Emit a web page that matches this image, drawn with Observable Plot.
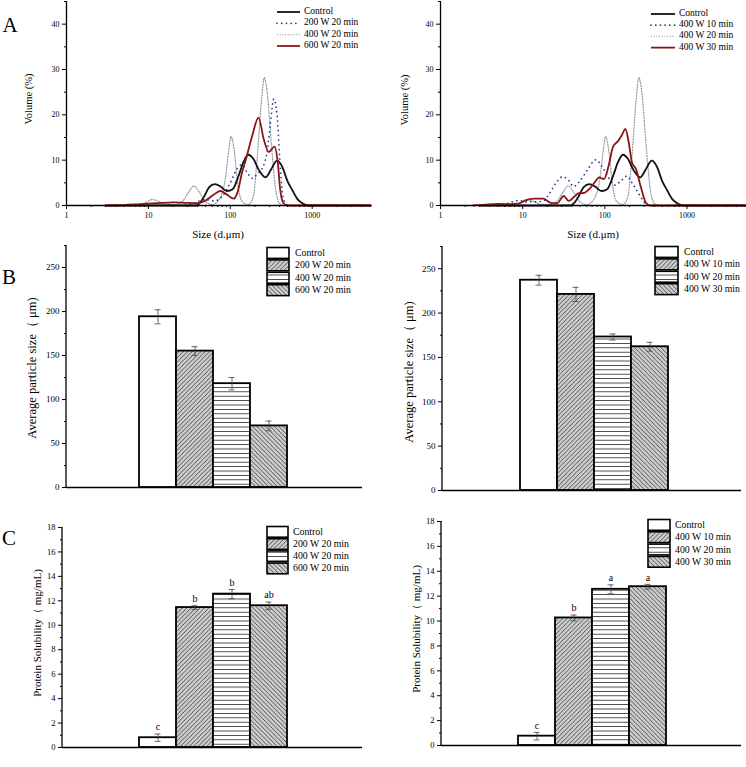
<!DOCTYPE html>
<html><head><meta charset="utf-8">
<script src="https://cdn.jsdelivr.net/npm/d3@7"></script>
<script src="https://cdn.jsdelivr.net/npm/@observablehq/plot@0.6"></script>
<style>
body{margin:0;background:#fff;}
#root{position:relative;width:746px;height:767px;overflow:hidden;font-family:"Liberation Serif","Times New Roman",serif;color:#000;}
.panel{position:absolute;}
.t{position:absolute;white-space:nowrap;font-family:"Liberation Serif","Times New Roman",serif;color:#000;line-height:1;}
</style></head><body>
<svg width="0" height="0" style="position:absolute">
<defs>
<pattern id="pFwd" patternUnits="userSpaceOnUse" width="4.4" height="4.4">
<rect width="4.4" height="4.4" fill="#cdcdcd"/>
<path d="M-1.1,1.1 L1.1,-1.1 M0,4.4 L4.4,0 M3.3,5.5 L5.5,3.3" stroke="#1a1a1a" stroke-width="0.7"/>
</pattern>
<pattern id="pBack" patternUnits="userSpaceOnUse" width="4.4" height="4.4">
<rect width="4.4" height="4.4" fill="#cdcdcd"/>
<path d="M-1.1,3.3 L1.1,5.5 M0,0 L4.4,4.4 M3.3,-1.1 L5.5,1.1" stroke="#1a1a1a" stroke-width="0.7"/>
</pattern>
<pattern id="pHor" patternUnits="userSpaceOnUse" width="6" height="4.4">
<rect width="6" height="4.4" fill="#ffffff"/>
<line x1="0" y1="2.2" x2="6" y2="2.2" stroke="#3a3a3a" stroke-width="0.9"/>
</pattern>
</defs>
</svg>
<div id="root"></div>
<script>
// ---------------- DATA ----------------
const seriesA1 = ["Control", "200 W 20 min", "400 W 20 min", "600 W 20 min"];
const seriesA2 = ["Control", "400 W 10 min", "400 W 20 min", "400 W 30 min"];

// particle size distributions: [size (µm), volume (%)]
const controlCurve = [[3,0],[25,0],[38,0],[43,0.7],[48,2],[55,4],[65,4.7],[76,4.2],[91,3.2],[107,3.6],[126,6.5],[145,9.6],[166,11.2],[191,10.3],[224,7.8],[269,6.2],[316,8.0],[372,9.9],[427,8.7],[501,5.3],[575,3.3],[661,1.4],[776,0.4],[933,0],[5200,0]];
const w200m20Curve = [[3,0],[25,0],[35.5,0.5],[41.7,1],[50,1.3],[63,1],[79.4,2],[100,5],[120,8],[138,9],[158,7.5],[186,6],[214,7],[251,8.5],[282,12],[309,18],[339,23.5],[372,20],[403,10],[432,3],[468,0.5],[525,0],[5200,0]];
const w400m20Curve = [[3,0],[6.3,0],[8.9,0.5],[11.2,1.3],[13.5,0.9],[16.6,0.3],[20.9,0.2],[26.3,1],[31.6,3.2],[35.9,4.3],[41.7,3],[50,0.8],[60.3,0.2],[72.4,1.2],[87.1,6],[95.5,12],[102,15.2],[112,12],[123,5],[138,1],[166,0.2],[191,2],[214,11],[240,23],[260,28.2],[282,25],[316,14],[355,4],[398,0.5],[447,0],[5200,0]];
const w600m20Curve = [[3.2,0],[5,0.1],[7.9,0.3],[12.6,0.5],[20,0.7],[28.2,0.6],[40,0.5],[50,1.1],[61.7,2.3],[75.9,3.2],[91.2,2.4],[110,1.5],[123,3],[138,7],[158,10.7],[186,15.5],[221,19.4],[257,14.5],[295,11.8],[347,13],[380,9.5],[407,3.5],[447,0.5],[501,0],[5200,0]];
const w400m10Curve = [[3,0],[4,0],[6.3,0.4],[8.9,1.1],[11.2,0.8],[14.1,0.8],[17.8,1.0],[20.9,2.5],[25.1,4.8],[30.2,6.3],[35.5,5.8],[41.7,4.2],[50.1,5.5],[61.7,7.9],[77.6,10.1],[93.3,8.5],[112,6],[132,4.5],[158,5.5],[186,6.5],[214,5],[251,3],[282,1.5],[316,0.3],[355,0],[5200,0]];
const w400m30Curve = [[2.5,0],[3.5,0.2],[5,0.35],[7.1,0.3],[8.9,0.4],[11.5,1.3],[14.1,1.5],[17.8,1.5],[21.9,0.6],[26.3,0.5],[31.6,2.1],[36.3,1.0],[42.7,2.0],[47.9,2.7],[56.2,2.8],[66.1,3.8],[75.9,5.2],[85.1,6.2],[97.7,5.8],[112,9],[126,13],[145,14.2],[162,15.6],[178,16.9],[195,14],[214,9.5],[240,8.0],[275,4.0],[316,0.6],[355,0],[5200,0]];

const xMajorTicks = [1, 10, 100, 1000];
const yTicksA = [0, 10, 20, 30, 40];
const yTicksB = [0, 50, 100, 150, 200, 250];
const yTicksC = [0, 2, 4, 6, 8, 10, 12, 14, 16, 18];

// average particle size (µm)
const sizeMeansL = [194, 155, 118, 70];
const sizeErrL = [8, 5, 7, 5.5];
const sizeMeansR = [237, 221, 173, 162];
const sizeErrR = [5.5, 8, 3.4, 5];
// protein solubility (mg/mL)
const solMeansL = [0.8, 11.45, 12.55, 11.6];
const solErrL = [0.3, 0.15, 0.38, 0.3];
const solLettersL = ["c", "b", "b", "ab"];
const solMeansR = [0.75, 10.25, 12.55, 12.76];
const solErrR = [0.3, 0.23, 0.36, 0.19];
const solLettersR = ["c", "b", "a", "a"];

// ---------------- STYLES ----------------
const FONT = "'Liberation Serif','Times New Roman',serif";
const barFills = ["#ffffff", "url(#pFwd)", "url(#pHor)", "url(#pBack)"];
const lineStyles = [
  {stroke: "#111111", strokeWidth: 1.8},
  {stroke: "#2b3f93", strokeWidth: 1.7, strokeDasharray: "0.1,4.6", strokeLinecap: "round"},
  {stroke: "#98a0ab", strokeWidth: 1.3, strokeDasharray: "1,1.7"},
  {stroke: "#8c1616", strokeWidth: 1.8}
];

const root = document.getElementById("root");
function place(el, left, top) {
  el.classList.add("panel");
  el.style.left = left + "px"; el.style.top = top + "px";
  root.appendChild(el);
}
function text(str, x, y, size, opts = {}) {
  const d = document.createElement("div");
  d.className = "t";
  d.textContent = str;
  d.style.fontSize = size + "px";
  d.style.left = x + "px"; d.style.top = y + "px";
  let tr = opts.anchor === "start" ? "translate(0,-50%)" : "translate(-50%,-50%)";
  if (opts.rotate) tr += " rotate(-90deg)";
  d.style.transform = tr;
  if (opts.weight) d.style.fontWeight = opts.weight;
  root.appendChild(d);
  return d;
}
function yAxisLine(svg, x, y1, y2) {
  const ns = "http://www.w3.org/2000/svg";
  const l = document.createElementNS(ns, "line");
  l.setAttribute("x1", x); l.setAttribute("x2", x);
  l.setAttribute("y1", y1); l.setAttribute("y2", y2);
  l.setAttribute("stroke", "#000"); l.setAttribute("stroke-width", "1.3");
  svg.appendChild(l);
}

// ---------------- PANEL A ----------------
const xMinor = [];
for (const k of [1, 10, 100, 1000]) for (let m = 2; m <= 9; m++) if (k * m <= 5300) xMinor.push(k * m);

function distPlot(curves, cfg) {
  const marks = [];
  const order = [2, 1, 0, 3];
  for (const i of order) {
    marks.push(Plot.line(curves[i], {x: d => d[0], y: d => d[1], curve: "monotone-x", ...lineStyles[i]}));
  }
  marks.push(
    Plot.ruleY([0], {stroke: "#000", strokeWidth: 1.3}),
    Plot.ruleX([1], {stroke: "#000", strokeWidth: 1.3}),
    Plot.axisX({ticks: xMajorTicks, tickFormat: d => String(d), tickSize: 4, tickPadding: 3, fontSize: 8, label: null}),
    Plot.axisX({ticks: xMinor, tickSize: 2, tickFormat: () => "", label: null}),
    Plot.axisY({ticks: yTicksA, tickSize: 4, tickPadding: 3, fontSize: 8, label: null}),
    Plot.axisY({ticks: [5, 15, 25, 35, 45], tickSize: 2, tickFormat: () => "", label: null})
  );
  return Plot.plot({
    width: cfg.width, height: 240,
    marginLeft: cfg.ml, marginRight: cfg.mr, marginTop: 1, marginBottom: 35,
    style: {fontFamily: FONT, background: "transparent", overflow: "visible"},
    x: {type: "log", domain: [1, 5300]},
    y: {domain: [0, 45]},
    marks
  });
}

place(distPlot([controlCurve, w200m20Curve, w400m20Curve, w600m20Curve], {width: 373, ml: 66, mr: 2}), 0, 0);
place(distPlot([controlCurve, w400m10Curve, w400m20Curve, w400m30Curve], {width: 373, ml: 67, mr: 0}), 373, 0);

// ---------------- BAR PANELS ----------------
function barPlot(cats, means, errs, letters, cfg) {
  const data = cats.map((c, i) => ({name: c, value: means[i], err: errs[i], letter: letters ? letters[i] : "", idx: i}));
  const marks = [
    Plot.barY(data, {x: "name", y: "value", fill: d => barFills[d.idx], stroke: "#000", strokeWidth: 1.8}),
    Plot.ruleX(data, {x: "name", y1: d => d.value - d.err, y2: d => d.value + d.err, stroke: "#444", strokeWidth: 0.8}),
    Plot.tickY(data, {x: "name", y: d => d.value + d.err, insetLeft: 15.5, insetRight: 15.5, stroke: "#444", strokeWidth: 0.8}),
    Plot.tickY(data, {x: "name", y: d => d.value - d.err, insetLeft: 15.5, insetRight: 15.5, stroke: "#444", strokeWidth: 0.8}),
    Plot.ruleY([0], {stroke: "#000", strokeWidth: 1.3}),
    Plot.axisY({ticks: cfg.ticks, tickSize: 4, tickPadding: 3, fontSize: cfg.tickFont, label: null}),
    Plot.axisY({ticks: cfg.minor, tickSize: 2, tickFormat: () => "", label: null})
  ];
  if (letters) marks.push(Plot.text(data, {x: "name", y: d => d.value + d.err, text: "letter", dy: -7, fontSize: 10, fill: "#000"}));
  const svg = Plot.plot({
    width: 373, height: cfg.height,
    marginLeft: cfg.ml, marginRight: cfg.mr, marginTop: cfg.mt, marginBottom: cfg.mb,
    style: {fontFamily: FONT, background: "transparent", overflow: "visible"},
    x: {type: "band", domain: cats, range: cfg.range, paddingInner: 0, paddingOuter: 0, axis: null},
    y: {domain: cfg.domain},
    color: {type: "identity"},
    marks
  });
  yAxisLine(svg, cfg.ml, cfg.mt, cfg.height - cfg.mb);
  return svg;
}

const sizeMinor = [25, 75, 125, 175, 225, 275];
const solMinor = [1, 3, 5, 7, 9, 11, 13, 15, 17];

place(barPlot(seriesA1, sizeMeansL, sizeErrL, null,
  {height: 260, ml: 66, mr: 11, mt: 5, mb: 13, range: [139, 287], domain: [0, 275], ticks: yTicksB, minor: sizeMinor, tickFont: 9}), 0, 240);
place(barPlot(seriesA2, sizeMeansR, sizeErrR, null,
  {height: 260, ml: 69, mr: 5, mt: 6, mb: 10, range: [146, 295], domain: [0, 275], ticks: yTicksB, minor: sizeMinor, tickFont: 9}), 373, 240);
place(barPlot(seriesA1, solMeansL, solErrL, solLettersL,
  {height: 267, ml: 62, mr: 11, mt: 27, mb: 20, range: [138, 287], domain: [0, 18], ticks: yTicksC, minor: solMinor, tickFont: 8.5}), 0, 500);
place(barPlot(seriesA2, solMeansR, solErrR, solLettersR,
  {height: 267, ml: 68, mr: 5, mt: 21, mb: 22, range: [144, 294], domain: [0, 18], ticks: yTicksC, minor: solMinor, tickFont: 8.5}), 373, 500);

// ---------------- LEGENDS ----------------
const ns = "http://www.w3.org/2000/svg";
function lineLegend(names, x0, x1, tx, ys) {
  const svg = document.createElementNS(ns, "svg");
  svg.setAttribute("width", 746); svg.setAttribute("height", 80);
  svg.style.position = "absolute"; svg.style.left = "0px"; svg.style.top = "0px";
  names.forEach((n, i) => {
    const l = document.createElementNS(ns, "line");
    l.setAttribute("x1", x0); l.setAttribute("x2", x1);
    l.setAttribute("y1", ys[i]); l.setAttribute("y2", ys[i]);
    const s = lineStyles[i];
    l.setAttribute("stroke", s.stroke); l.setAttribute("stroke-width", s.strokeWidth);
    if (s.strokeDasharray) l.setAttribute("stroke-dasharray", s.strokeDasharray);
    if (s.strokeLinecap) l.setAttribute("stroke-linecap", s.strokeLinecap);
    svg.appendChild(l);
    text(n, tx, ys[i], 9.5, {anchor: "start"});
  });
  root.appendChild(svg);
}
function boxLegend(names, x0, w, top, h, tx) {
  const svg = document.createElementNS(ns, "svg");
  svg.setAttribute("width", 746); svg.setAttribute("height", 767);
  svg.style.position = "absolute"; svg.style.left = "0px"; svg.style.top = "0px";
  names.forEach((n, i) => {
    const r = document.createElementNS(ns, "rect");
    r.setAttribute("x", x0); r.setAttribute("y", top + i * h);
    r.setAttribute("width", w); r.setAttribute("height", h - 1.5);
    r.setAttribute("fill", barFills[i]); r.setAttribute("stroke", "#000"); r.setAttribute("stroke-width", 1.6);
    svg.appendChild(r);
    text(n, tx, top + i * h + (h - 1.5) / 2, 9.8, {anchor: "start"});
  });
  root.appendChild(svg);
}
lineLegend(seriesA1, 277, 300, 304, [12, 23.3, 34.6, 46]);
lineLegend(seriesA2, 651, 675, 679, [14, 25.2, 36.4, 47.6]);
boxLegend(seriesA1, 267, 22, 247.5, 12.4, 295);
boxLegend(seriesA2, 655, 23, 246.5, 12.4, 684);
boxLegend(seriesA1, 267, 21, 526.5, 12.2, 293);
boxLegend(seriesA2, 648, 22, 519.5, 12.3, 675);

// ---------------- AXIS TITLES & PANEL LETTERS ----------------
text("Volume (%)", 29, 99, 10.5, {rotate: true});
text("Volume (%)", 405, 100, 10.5, {rotate: true});
text("Size (d.\u03bcm)", 218, 234, 11);
text("Size (d.\u03bcm)", 593, 234, 11);
text("Average particle size\uff08 \u03bcm)", 32, 368, 12.5, {rotate: true});
text("Average particle size\uff08 \u03bcm)", 409, 372, 12.5, {rotate: true});
text("Protein Solubility\uff08 mg/mL)", 37, 633, 11, {rotate: true});
text("Protein Solubility\uff08 mg/mL)", 416, 629, 11, {rotate: true});
text("A", 10, 25, 21);
text("B", 9, 277, 21);
text("C", 9, 538, 21);
</script>
</body></html>
